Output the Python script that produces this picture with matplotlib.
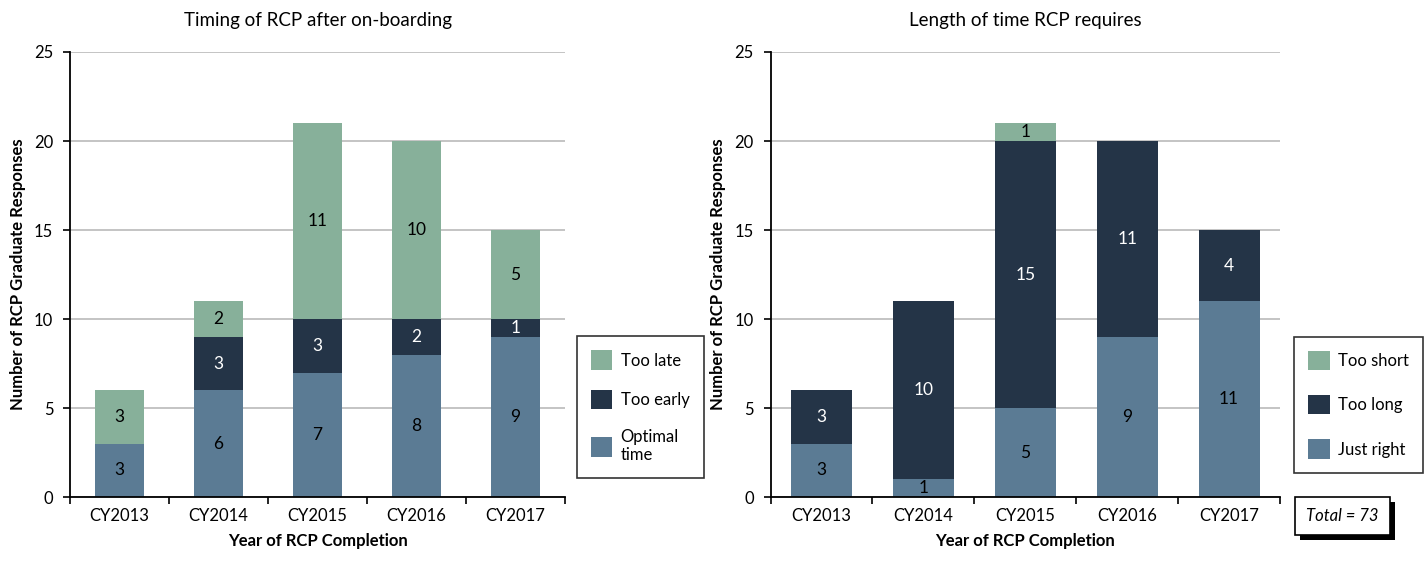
import matplotlib
matplotlib.use("Agg")
import matplotlib.pyplot as plt
from matplotlib.patches import Patch, Rectangle
import numpy as np

plt.rcParams['font.family'] = ['Lato', 'DejaVu Sans']

years = ["CY2013", "CY2014", "CY2015", "CY2016", "CY2017"]

# Left chart: Timing of RCP after on-boarding
optimal_time = [3, 6, 7, 8, 9]
too_early = [0, 3, 3, 2, 1]
too_late = [3, 2, 11, 10, 5]

# Right chart: Length of time RCP requires
just_right = [3, 1, 5, 9, 11]
too_long = [3, 10, 15, 11, 4]
too_short = [0, 0, 1, 0, 0]

c_light = "#87B09A"
c_dark = "#243447"
c_mid = "#5B7B94"

fig = plt.figure(figsize=(14.27, 5.65), dpi=100)
ax1 = fig.add_axes([0.049, 0.120, 0.347, 0.788])
ax2 = fig.add_axes([0.540, 0.120, 0.357, 0.788])


def draw(ax, series, colors, labels, title, width, legend_anchor, spacing):
    x = np.arange(len(years))
    bottom = np.zeros(len(years))
    for vals, col in zip(series, colors):
        vals = np.array(vals, dtype=float)
        ax.bar(x, vals, width, bottom=bottom, color=col, edgecolor="none", zorder=2)
        for xi, v, b in zip(x, vals, bottom):
            if v > 0:
                tc = "white" if col == c_dark else "black"
                ax.text(xi, b + v / 2, f"{int(v)}", ha="center", va="center",
                        fontsize=12.5, color=tc, zorder=3)
        bottom += vals
    ax.set_xlim(-0.5, len(years) - 0.5)
    ax.set_ylim(0, 25)
    ax.set_yticks(range(0, 26, 5))
    ax.set_xticks(x)
    ax.set_xticklabels(years)
    ax.set_xticks(np.arange(-0.5, len(years)), minor=True)
    ax.tick_params(axis="x", which="major", length=0, labelsize=12, pad=8)
    ax.tick_params(axis="x", which="minor", length=5, direction="out", width=1.2)
    ax.tick_params(axis="y", length=5, direction="out", width=1.2, labelsize=12, pad=7)
    ax.yaxis.grid(True, color="#BFBFBF", linewidth=1.3, zorder=0)
    ax.set_axisbelow(True)
    for s in ["top", "right"]:
        ax.spines[s].set_visible(False)
    ax.spines["left"].set_linewidth(1.3)
    ax.spines["bottom"].set_linewidth(1.3)
    ax.set_title(title, fontsize=13.5, pad=19)
    ax.set_xlabel("Year of RCP Completion", fontsize=12, fontweight="bold", labelpad=6)
    ax.set_ylabel("Number of RCP Graduate Responses", fontsize=12, fontweight="bold", labelpad=6)
    handles = [Patch(facecolor=c, edgecolor="none") for c in colors[::-1]]
    leg = ax.legend(handles, labels[::-1], loc="upper left", bbox_to_anchor=legend_anchor,
                    bbox_transform=fig.transFigure, frameon=True, fancybox=False,
                    edgecolor="black", fontsize=12, handlelength=1.3, handleheight=1.4,
                    labelspacing=spacing, borderpad=0.85, handletextpad=0.5, borderaxespad=0)
    leg.get_frame().set_linewidth(1.2)


draw(ax1, [optimal_time, too_early, too_late], [c_mid, c_dark, c_light],
     ["Optimal\ntime", "Too early", "Too late"], "Timing of RCP after on-boarding", 0.5,
     (0.404, 0.405), 1.2)
draw(ax2, [just_right, too_long, too_short], [c_mid, c_dark, c_light],
     ["Just right", "Too long", "Too short"], "Length of time RCP requires", 0.6,
     (0.907, 0.404), 1.5)

# Total box with shadow
bx, by, bw, bh = 0.9075, 0.053, 0.0665, 0.067
fig.patches.append(Rectangle((bx + 0.0035, by - 0.009), bw, bh, transform=fig.transFigure,
                             facecolor="black", edgecolor="none", zorder=1))
fig.patches.append(Rectangle((bx, by), bw, bh, transform=fig.transFigure,
                             facecolor="white", edgecolor="black", linewidth=1.2, zorder=2))
fig.text(bx + bw / 2, by + bh / 2, "Total = 73", fontsize=12, style="italic",
         ha="center", va="center", zorder=3)

fig.savefig("out.png", dpi=100)
